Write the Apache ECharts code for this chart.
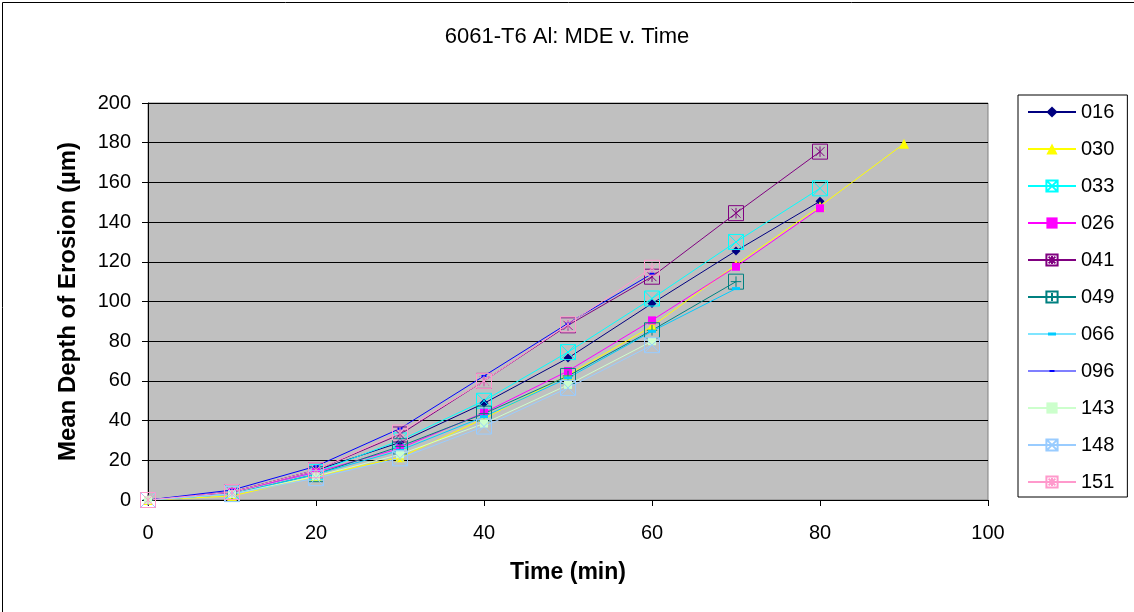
<!DOCTYPE html>
<html>
<head>
<meta charset="utf-8">
<script src="https://cdn.jsdelivr.net/npm/echarts@6/dist/echarts.min.js"></script>
<style>
html,body{margin:0;padding:0;background:#fff;}
#c{width:1134px;height:612px;}
</style>
</head>
<body>
<div id="c"></div>
<script>
// ---- data ----
var times = [0, 10, 20, 30, 40, 50, 60, 70, 80, 90];
var seriesNames = ['016', '030', '033', '026', '041', '049', '066', '096', '143', '148', '151'];
var s016 = [0, 4, 15, 29, 48.7, 71.5, 99, 125.5, 150.5];
var s030 = [0, 2, 12, 21.5, 41, 63, 87.5, 118.5, 148, 179.5];
var s033 = [0, 4, 14, 30, 50, 74.5, 101.5, 130, 157];
var s026 = [0, 4, 14, 26, 44, 65, 90.5, 117.5, 147];
var s041 = [0, 4, 15, 33, 60, 88, 112.5, 144.5, 175.5];
var s049 = [0, 3, 13, 27, 43.5, 62.5, 85.5, 110];
var s066 = [0, 3, 13, 25, 42, 61.5, 85, 106.5];
var s096 = [0, 5, 17, 36, 62.5, 89, 114];
var s143 = [0, 3, 12, 23, 38.5, 58, 80];
var s148 = [0, 3, 11, 21, 37, 56.5, 78];
var s151 = [0, 4, 15, 34, 60, 88.5, 117];
var xTicks = [0, 20, 40, 60, 80, 100];
var yTicks = [0, 20, 40, 60, 80, 100, 120, 140, 160, 180, 200];

var valuesByName = {
  '016': s016, '030': s030, '033': s033, '026': s026, '041': s041, '049': s049,
  '066': s066, '096': s096, '143': s143, '148': s148, '151': s151
};

// ---- styles ----
var BOX_X = 'path://M0,0L10,0L10,10L0,10Z M0,0L10,10 M10,0L0,10';
var BOX_AST = 'path://M0,0L10,0L10,10L0,10Z M2,2L8,8 M8,2L2,8 M5,1.5L5,8.5';
var BOX_PLUS = 'path://M0,0L10,0L10,10L0,10Z M5,1.5L5,8.5 M1.5,5L8.5,5';
var DASH = 'path://M0,0L8,0L8,3L0,3Z';
var SMALL_DASH = 'path://M0,0L5,0L5,2L0,2Z';
// legend icons (48x14 box: line + dash marker), tiny corner specks fix the bounding box
var CORNERS = 'M0,0L0.01,0L0,0.01Z M48,14L47.99,14L48,13.99Z ';
var LEG_LINE = 'M0,6.5L48,6.5L48,7.5L0,7.5Z ';
var LEG_DASH = 'path://' + CORNERS + LEG_LINE + 'M20,5.5L28,5.5L28,8.5L20,8.5Z';
var LEG_SMALL_DASH = 'path://' + CORNERS + LEG_LINE + 'M21.5,6L26.5,6L26.5,8L21.5,8Z';

var styles = {
  '016': {color: '#000080', symbol: 'diamond', size: 9, fill: true},
  '030': {color: '#FFFF00', symbol: 'triangle', size: 10, fill: true},
  '033': {color: '#00FFFF', symbol: BOX_X, size: 15, fill: false},
  '026': {color: '#FF00FF', symbol: 'rect', size: 8, fill: true},
  '041': {color: '#800080', symbol: BOX_AST, size: 15, fill: false},
  '049': {color: '#008080', symbol: BOX_PLUS, size: 15, fill: false},
  '066': {color: '#00CCFF', symbol: DASH, size: 8, fill: true, keep: true, legendIcon: LEG_DASH},
  '096': {color: '#0000FF', symbol: SMALL_DASH, size: 5, fill: true, keep: true, legendIcon: LEG_SMALL_DASH},
  '143': {color: '#CCFFCC', symbol: 'rect', size: 8, fill: true},
  '148': {color: '#99CCFF', symbol: BOX_X, size: 15, fill: false},
  '151': {color: '#FF99CC', symbol: BOX_AST, size: 15, fill: false}
};

var FONT = 'Liberation Sans, Arial, sans-serif';

var series = seriesNames.map(function (name) {
  var st = styles[name];
  var vals = valuesByName[name];
  return {
    name: name,
    type: 'line',
    data: vals.map(function (v, i) { return [times[i], v]; }),
    symbol: st.symbol,
    symbolSize: st.size,
    symbolKeepAspect: !!st.keep,
    showSymbol: true,
    showAllSymbol: true,
    lineStyle: {color: st.color, width: 1},
    itemStyle: st.fill
      ? {color: st.color, borderWidth: 0}
      : {color: 'rgba(0,0,0,0)', borderColor: st.color, borderWidth: 1},
    emphasis: {disabled: true},
    animation: false
  };
});

var legendData = seriesNames.map(function (name) {
  var st = styles[name];
  return st.legendIcon ? {name: name, icon: st.legendIcon} : {name: name};
});

var chart = echarts.init(document.getElementById('c'), null, {renderer: 'canvas'});
chart.setOption({
  animation: false,
  backgroundColor: '#ffffff',
  textStyle: {fontFamily: FONT},
  title: {
    text: '6061-T6 Al: MDE v. Time',
    left: 'center',
    top: 21,
    textStyle: {fontFamily: FONT, fontSize: 22, fontWeight: 'normal', color: '#000'}
  },
  grid: {
    left: 148, right: 146, top: 103, bottom: 112,
    show: true, backgroundColor: '#C0C0C0', borderColor: '#808080', borderWidth: 1
  },
  xAxis: {
    type: 'value', min: 0, max: 100, interval: 20,
    name: 'Time (min)', nameLocation: 'middle', nameGap: 61,
    nameTextStyle: {fontFamily: FONT, fontSize: 23, fontWeight: 'bold', color: '#000'},
    axisLine: {show: true, onZero: false, lineStyle: {color: '#000', width: 1}},
    axisTick: {show: true, inside: false, length: 6, lineStyle: {color: '#000'}},
    axisLabel: {fontFamily: FONT, fontSize: 20, color: '#000', margin: 23,
      formatter: function (v) { return xTicks.indexOf(v) >= 0 ? String(v) : ''; }},
    splitLine: {show: false}
  },
  yAxis: {
    type: 'value', min: 0, max: 200, interval: 20,
    name: 'Mean Depth of Erosion (µm)', nameLocation: 'middle', nameGap: 68,
    nameTextStyle: {fontFamily: FONT, fontSize: 24, fontWeight: 'bold', color: '#000'},
    axisLine: {show: true, lineStyle: {color: '#000', width: 1}},
    axisTick: {show: true, inside: false, length: 6, lineStyle: {color: '#000'}},
    axisLabel: {fontFamily: FONT, fontSize: 20, color: '#000', margin: 17,
      formatter: function (v) { return yTicks.indexOf(v) >= 0 ? String(v) : ''; }},
    splitLine: {show: true, lineStyle: {color: '#000', width: 1}}
  },
  legend: {
    orient: 'vertical',
    left: 1018, top: 95,
    padding: [7, 13, 5, 9],
    itemWidth: 48, itemHeight: 14, itemGap: 17,
    borderColor: '#000', borderWidth: 1, backgroundColor: '#fff',
    textStyle: {fontFamily: FONT, fontSize: 20, color: '#000'},
    data: legendData
  },
  graphic: [{
    type: 'rect', left: 0, top: 0, silent: true,
    shape: {x: 0.5, y: 0.5, width: 1132, height: 610},
    style: {fill: 'none', stroke: '#000', lineWidth: 1}
  }],
  series: series
});
</script>
</body>
</html>
